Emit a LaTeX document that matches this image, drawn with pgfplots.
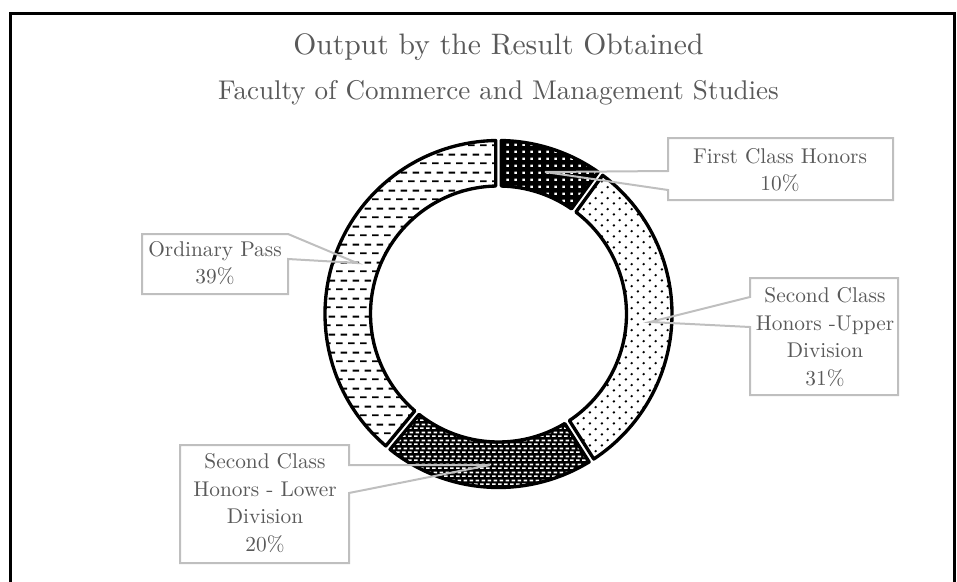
\documentclass[border=0pt]{standalone}
\usepackage{fontspec}
\setmainfont{lmroman10-regular.otf}
\usepackage{pgfplots}
\pgfplotsset{compat=1.18}
\usetikzlibrary{patterns,calc}

\definecolor{txt}{HTML}{595959}
\definecolor{callout}{HTML}{BFBFBF}

% fill patterns (1px = 0.75pt)
\pgfdeclarepatternformonly{fcdots}{\pgfpointorigin}{\pgfpoint{6pt}{5.25pt}}{\pgfpoint{6pt}{5.25pt}}{%
  \pgfpathrectangle{\pgfpoint{2pt}{1.7pt}}{\pgfpoint{2pt}{1.9pt}}\pgfusepath{fill}}
\pgfdeclarepatternformonly{sudots}{\pgfpointorigin}{\pgfpoint{8.8pt}{8.4pt}}{\pgfpoint{8.8pt}{8.4pt}}{%
  \pgfpathcircle{\pgfpoint{2.2pt}{2.1pt}}{1pt}%
  \pgfpathcircle{\pgfpoint{6.6pt}{6.3pt}}{1pt}\pgfusepath{fill}}
\pgfdeclarepatternformonly{sldash}{\pgfpointorigin}{\pgfpoint{4.5pt}{6pt}}{\pgfpoint{4.5pt}{6pt}}{%
  \pgfpathrectangle{\pgfpoint{0.1pt}{0.9pt}}{\pgfpoint{3pt}{1.35pt}}%
  \pgfpathrectangle{\pgfpoint{1.4pt}{3.9pt}}{\pgfpoint{3pt}{1.35pt}}\pgfusepath{fill}}
\pgfdeclarepatternformonly{opdash}{\pgfpointorigin}{\pgfpoint{9pt}{13.5pt}}{\pgfpoint{9pt}{13.5pt}}{%
  \pgfpathrectangle{\pgfpoint{0pt}{3pt}}{\pgfpoint{5.3pt}{1.5pt}}%
  \pgfpathrectangle{\pgfpoint{3.7pt}{9.75pt}}{\pgfpoint{5.3pt}{1.5pt}}\pgfusepath{fill}}

% ring geometry, in px
\def\cx{498.5}\def\cy{314}\def\ro{173.5}\def\ri{128}\def\gap{2.75}

% angles and radii of one ring segment, clockwise from #1 to #2 (degrees)
\newcommand\segpath[2]{%
  \pgfmathsetmacro\so{#1-asin(\gap/\ro)}%
  \pgfmathsetmacro\eo{#2+asin(\gap/\ro)}%
  \pgfmathsetmacro\si{#1-asin(\gap/\ri)}%
  \pgfmathsetmacro\ei{#2+asin(\gap/\ri)}%
  \pgfmathsetmacro\Ro{\ro*0.75}%
  \pgfmathsetmacro\Ri{\ri*0.75}%
}

\begin{document}
\begin{tikzpicture}
\begin{axis}[
    x=0.75pt, y=0.75pt,
    xmin=0, xmax=957, ymin=0, ymax=582,
    y dir=reverse,
    hide axis, clip=false, scale only axis,
]
\coordinate (bbA) at (axis cs:0,582);
\coordinate (bbB) at (axis cs:957,0);
\coordinate (c) at (axis cs:\cx,\cy);

% share of each result (%), clockwise from the top
\pgfplotsextra{
  \xdef\cum{90}
  \foreach \v/\bg/\fg/\pat in {10/black/white/fcdots, 31/white/black/sudots,
                               20/black/white/sldash, 39/white/black/opdash} {
    \pgfmathsetmacro\endang{\cum-3.6*\v}
    \segpath{\cum}{\endang}
    \path[fill=\bg] (c) ++(\so:\Ro pt) arc[start angle=\so, end angle=\eo, radius=\Ro pt]
       -- ($(c)+(\ei:\Ri pt)$) arc[start angle=\ei, end angle=\si, radius=\Ri pt] -- cycle;
    \path[pattern=\pat, pattern color=\fg] (c) ++(\so:\Ro pt) arc[start angle=\so, end angle=\eo, radius=\Ro pt]
       -- ($(c)+(\ei:\Ri pt)$) arc[start angle=\ei, end angle=\si, radius=\Ri pt] -- cycle;
    \draw[black, line width=2.5pt, line join=round] (c) ++(\so:\Ro pt) arc[start angle=\so, end angle=\eo, radius=\Ro pt]
       -- ($(c)+(\ei:\Ri pt)$) arc[start angle=\ei, end angle=\si, radius=\Ri pt] -- cycle;
    \xdef\cum{\endang}
  }
}

% callouts
\draw[callout, line width=1.5pt] (axis cs:668,138) -- (axis cs:893,138) -- (axis cs:893,200)
   -- (axis cs:668,200) -- (axis cs:668,190) -- (axis cs:545,172) -- (axis cs:668,171) -- cycle;
\draw[callout, line width=1.5pt] (axis cs:750,278) -- (axis cs:898,278) -- (axis cs:898,395)
   -- (axis cs:750,395) -- (axis cs:750,327) -- (axis cs:650,322) -- (axis cs:750,297) -- cycle;
\draw[callout, line width=1.5pt] (axis cs:142,234) -- (axis cs:288,234) -- (axis cs:357,263)
   -- (axis cs:288,259) -- (axis cs:288,294) -- (axis cs:142,294) -- cycle;
\draw[callout, line width=1.5pt] (axis cs:180,445) -- (axis cs:349,445) -- (axis cs:349,465)
   -- (axis cs:490,465) -- (axis cs:349,493) -- (axis cs:349,563) -- (axis cs:180,563) -- cycle;

\tikzset{lbl/.style={text=txt, align=center, font=\fontsize{16}{20.6}\selectfont}}
\node[lbl] at (axis cs:780,170) {First Class Honors\\10\%};
\node[lbl] at (axis cs:825,337) {Second Class\\Honors -Upper\\Division\\31\%};
\node[lbl] at (axis cs:215,263) {Ordinary Pass\\39\%};
\node[lbl] at (axis cs:265,503) {Second Class\\Honors - Lower\\Division\\20\%};

% titles
\node[text=txt, anchor=base, font=\fontsize{22.2}{24}\selectfont] at (axis cs:498.5,54) {Output by the Result Obtained};
\node[text=txt, anchor=base, font=\fontsize{20.3}{24}\selectfont] at (axis cs:498.5,99) {Faculty of Commerce and Management Studies};

% chart frame
\draw[black, line width=2.25pt] (axis cs:10,582) -- (axis cs:10,13) -- (axis cs:954,13) -- (axis cs:954,582);
\end{axis}
\pgfresetboundingbox
\path[use as bounding box] (bbA) rectangle (bbB);
\end{tikzpicture}
\end{document}
